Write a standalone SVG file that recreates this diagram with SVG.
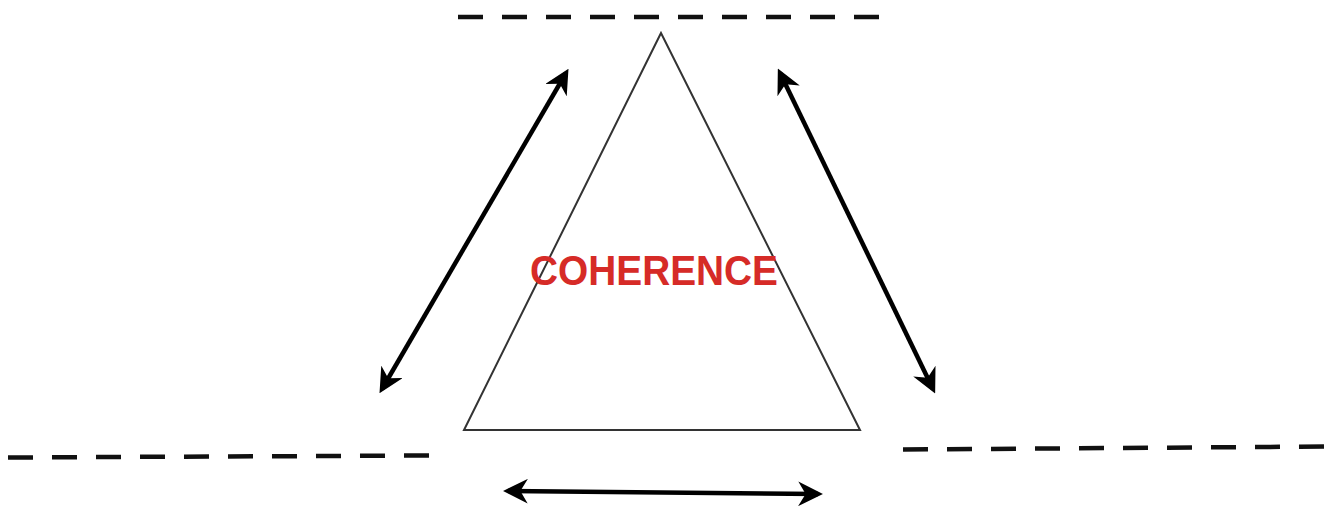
<svg xmlns="http://www.w3.org/2000/svg" width="1330" height="507" viewBox="0 0 1330 507">
<defs>
<style>
.dash{stroke:#111;stroke-width:4.5;stroke-dasharray:25 19;fill:none}
.arr{stroke:#000;stroke-width:4.5;fill:none;marker-start:url(#ah);marker-end:url(#ah)}
.tri{fill:#fff;stroke:#333;stroke-width:2}
.lbl{font-family:"Liberation Sans",Arial,sans-serif;font-weight:bold;font-size:42px;fill:#d62b27}
</style>
<marker id="ah" viewBox="0 0 10 10" refX="8" refY="5" markerWidth="5.5" markerHeight="5.5" markerUnits="strokeWidth" orient="auto-start-reverse">
<path d="M0,0 L10,5 L0,10 L3,5 Z" fill="#000"/>
</marker>
</defs>
<rect width="1330" height="507" fill="#fff"/>
<g id="boundaries">
<line class="dash" x1="458" y1="17" x2="880" y2="17"/>
<line class="dash" x1="8" y1="457.5" x2="430" y2="455.5"/>
<line class="dash" x1="903" y1="449.5" x2="1327" y2="446.5"/>
</g>
<g id="triangle">
<polygon class="tri" points="661,33 464,430 860,430"/>
<text class="lbl" x="654" y="285" text-anchor="middle" textLength="248" lengthAdjust="spacingAndGlyphs">COHERENCE</text>
</g>
<g id="connectors">
<line class="arr" x1="382" y1="389" x2="566" y2="73"/>
<line class="arr" x1="780" y1="73" x2="933" y2="389"/>
<line class="arr" x1="508" y1="491" x2="818" y2="494"/>
</g>
</svg>
